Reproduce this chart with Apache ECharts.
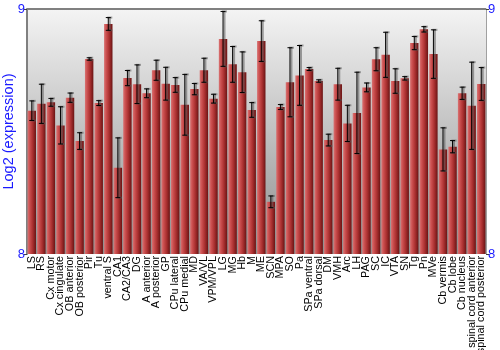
<!DOCTYPE html>
<html><head><meta charset="utf-8">
<script src="https://cdn.jsdelivr.net/npm/echarts@6/dist/echarts.min.js"></script>
<style>html,body{margin:0;padding:0;background:#fff}#c{width:500px;height:350px}</style>
</head><body><div id="c"></div>
<script>
var categories = ["LS","RS","Cx motor","Cx cingulate","OB anterior","OB posterior","Pir","Tu","ventral S","CA1","CA2/CA3","DG","A anterior","A posterior","GP","CPu lateral","CPu medial","MD","VA/VL","VPM/VPL","LG","MG","Hb","M","ME","SCN","MPA","SO","Pa","SPa ventral","SPa dorsal","DM","VMH","Arc","LH","PAG","SC","IC","VTA","SN","Tg","Pn","MVe","Cb vermis","Cb lobe","Cb nucleus","spinal cord anterior","spinal cord posterior"];
var values = [8.585,8.613,8.619,8.525,8.638,8.461,8.796,8.616,8.939,8.352,8.718,8.693,8.656,8.750,8.695,8.690,8.609,8.673,8.750,8.634,8.878,8.774,8.742,8.588,8.869,8.213,8.600,8.701,8.729,8.755,8.706,8.465,8.693,8.533,8.576,8.680,8.795,8.813,8.706,8.717,8.861,8.917,8.816,8.427,8.438,8.656,8.605,8.694];
var errors = [0.040,0.080,0.016,0.076,0.019,0.034,0.005,0.010,0.026,0.122,0.031,0.079,0.018,0.041,0.067,0.030,0.124,0.023,0.049,0.018,0.112,0.073,0.083,0.030,0.083,0.024,0.010,0.141,0.122,0.006,0.005,0.024,0.065,0.074,0.166,0.018,0.047,0.092,0.050,0.007,0.027,0.011,0.099,0.088,0.025,0.025,0.178,0.067];
var yTicks = [8, 9];

var errData = values.map(function(v,i){return [i, v - errors[i], v + errors[i]];});
var chart = echarts.init(document.getElementById('c'));
var blue = '#1a1aff';
var ff = 'Liberation Sans, Arial, sans-serif';
chart.setOption({
  animation:false,
  grid:{left:27,right:14,top:9,bottom:96,show:true,borderWidth:0,outerBoundsMode:'none',containLabel:false,
    backgroundColor:new echarts.graphic.LinearGradient(0,0,0,1,[{offset:0,color:'#f4f4f4'},{offset:1,color:'#8e8e8e'}])},
  xAxis:{type:'category',data:categories,
    axisLine:{show:false},axisTick:{show:false},
    axisLabel:{interval:0,rotate:90,color:'#000',fontSize:10.8,fontFamily:ff,margin:2}},
  yAxis:[{type:'value',min:yTicks[0],max:yTicks[1],interval:1,
    name:'Log2 (expression)',nameLocation:'middle',nameGap:11,nameMoveOverlap:false,
    nameTextStyle:{color:blue,fontSize:14.5,fontFamily:ff},
    axisLine:{show:true,lineStyle:{color:'#808080',width:2}},
    axisTick:{show:true,length:3,lineStyle:{color:'#404040'}},
    axisLabel:{color:blue,fontSize:13,margin:2,fontFamily:ff},
    splitLine:{show:false}},
   {type:'value',position:'right',min:yTicks[0],max:yTicks[1],interval:1,
    axisLine:{show:true,lineStyle:{color:'#a0a0a0',width:1}},
    axisTick:{show:true,length:3,lineStyle:{color:'#404040'}},
    axisLabel:{color:blue,fontSize:13,margin:2,fontFamily:ff},
    splitLine:{show:false}}],
  graphic:[{type:'line',shape:{x1:27,y1:9,x2:486,y2:9},style:{stroke:'#808080',lineWidth:2}}],
  series:[{type:'bar',data:values,barCategoryGap:'12%',
    itemStyle:{color:new echarts.graphic.LinearGradient(0,0,1,0,[
      {offset:0,color:'#d87474'},{offset:0.25,color:'#cc5050'},{offset:0.6,color:'#aa3030'},{offset:1,color:'#6a1414'}])}},
   {type:'custom',data:errData,z:5,
    renderItem:function(params,api){
      var x=api.coord([api.value(0),api.value(1)])[0];
      var lo=api.coord([api.value(0),api.value(1)])[1];
      var hi=api.coord([api.value(0),api.value(2)])[1];
      var w=2.5;
      var sh='rgba(90,90,90,0.55)', o=1.5;
      return {type:'group',children:[
        {type:'line',shape:{x1:x+o,y1:hi,x2:x+o,y2:lo},style:{stroke:sh,lineWidth:2}},
        {type:'line',shape:{x1:x-w+o,y1:hi,x2:x+w+o,y2:hi},style:{stroke:sh,lineWidth:2}},
        {type:'line',shape:{x1:x-w+o,y1:lo,x2:x+w+o,y2:lo},style:{stroke:sh,lineWidth:2}},
        {type:'line',shape:{x1:x,y1:hi,x2:x,y2:lo},style:{stroke:'#000',lineWidth:1}},
        {type:'line',shape:{x1:x-w,y1:hi,x2:x+w,y2:hi},style:{stroke:'#000',lineWidth:1}},
        {type:'line',shape:{x1:x-w,y1:lo,x2:x+w,y2:lo},style:{stroke:'#000',lineWidth:1}}
      ]};
    }}]
});
</script></body></html>
